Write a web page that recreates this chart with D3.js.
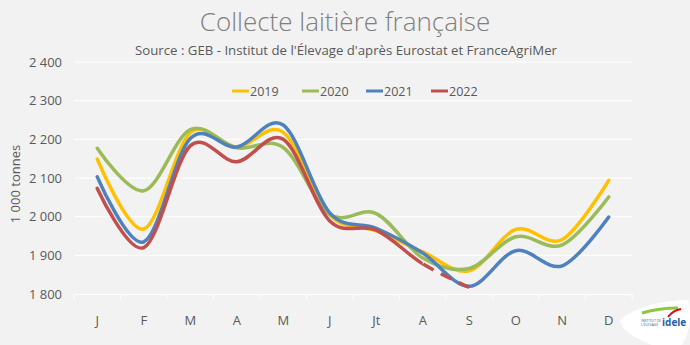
<!DOCTYPE html>
<html><head><meta charset="utf-8">
<script src="https://cdn.jsdelivr.net/npm/d3@7"></script>
<style>html,body{margin:0;padding:0;background:#f2f2f2;}svg{display:block;}</style>
</head><body><svg id="c" width="690" height="345"></svg>
<script>
const months = ["J","F","M","A","M ","J ","Jt","A ","S","O","N","D"];
const monthLabels = ["J","F","M","A","M","J","Jt","A","S","O","N","D"];
const s2019 = [2149, 1968, 2217, 2180, 2218, 2005, 1963, 1909, 1860, 1967, 1941, 2094];
const s2020 = [2177, 2067, 2225, 2178, 2179, 2006, 2008, 1893, 1866, 1948, 1927, 2051];
const s2021 = [2103, 1935, 2202, 2180, 2237, 2010, 1970, 1906, 1820, 1912, 1873, 1999];
const s2022 = [2073, 1920, 2183, 2142, 2200, 1989, 1965, 1878, 1817];
const seriesNames = ["2019","2020","2021","2022"];
const seriesColors = ["#FFC000","#9BBB59","#4F81BD","#C0504D"];
const yTicks = [1800,1900,2000,2100,2200,2300,2400];
const dashedFromIndex = 7; // 2022 : segment août -> sept en pointillés

const svg = d3.select("#c");
const font = "'Open Sans', sans-serif";
svg.append("rect").attr("width",690).attr("height",345).attr("fill","#f2f2f2");

const x = d3.scaleBand().domain(months).range([74, 632]);
const y = d3.scaleLinear().domain([1800, 2400]).range([294, 62]);
const fmt = v => d3.format(",")(v).replace(",", " ");

// gridlines
svg.append("g").selectAll("line").data(yTicks.slice(1)).join("line")
  .attr("x1", 74).attr("x2", 632).attr("y1", d => y(d)).attr("y2", d => y(d))
  .attr("stroke", "#ffffff").attr("stroke-width", 1);

// y axis labels
const ya = svg.append("g").attr("transform","translate(74,0)")
  .call(d3.axisLeft(y).tickValues(yTicks).tickSize(0).tickPadding(12).tickFormat(fmt));
ya.select(".domain").remove();
ya.selectAll("text").attr("font-family", font).attr("font-size", 13).attr("fill", "#595959");

// x axis
const xa = svg.append("g").attr("transform","translate(0,294)")
  .call(d3.axisBottom(x).tickSize(0).tickPadding(22).tickFormat((d,i)=>monthLabels[i]));
xa.select(".domain").attr("stroke","#ffffff").attr("stroke-width",1);
xa.selectAll("text").attr("font-family", font).attr("font-size", 13).attr("fill", "#595959");
svg.append("g").selectAll("line").data(d3.range(13)).join("line")
  .attr("x1", i => 74 + i * x.step()).attr("x2", i => 74 + i * x.step())
  .attr("y1", 294).attr("y2", 299).attr("stroke","#ffffff");

// y title
svg.append("text").attr("transform","translate(20,184) rotate(-90)")
  .attr("text-anchor","middle").attr("font-family",font).attr("font-size",13)
  .attr("fill","#595959").text("1 000 tonnes");

// title
svg.append("text").attr("x",345).attr("y",31).attr("text-anchor","middle")
  .attr("font-family",font).attr("font-weight",300).attr("font-size",26).attr("fill","#7f7f7f")
  .text("Collecte laitière française");
svg.append("text").attr("x",346).attr("y",55).attr("text-anchor","middle")
  .attr("font-family",font).attr("font-size",12.5).attr("fill","#595959")
  .attr("textLength",422).attr("lengthAdjust","spacingAndGlyphs")
  .text("Source : GEB - Institut de l'Élevage d'après Eurostat et FranceAgriMer");

// lines
const cx = x.bandwidth()/2;
const line = d3.line().x((d,i)=>x(months[i]) + cx).y(d=>y(d)).curve(d3.curveCatmullRom.alpha(0));
const all = [s2019, s2020, s2021];
const g = svg.append("g").attr("fill","none").attr("stroke-linecap","round").attr("stroke-linejoin","round");
all.forEach((s,k)=>{
  g.append("path").attr("d", line(s)).attr("stroke", seriesColors[k]).attr("stroke-width", 3.5);
});
// 2022 : solid then dashed
const xA = x(months[dashedFromIndex]) + cx;
svg.append("clipPath").attr("id","clipSolid").append("rect").attr("x",0).attr("y",0).attr("width",xA).attr("height",345);
g.append("path").attr("d", line(s2022)).attr("stroke", seriesColors[3]).attr("stroke-width",3.5)
  .attr("clip-path","url(#clipSolid)");
const dashed = g.append("path").attr("d", line(s2022)).attr("stroke", seriesColors[3]).attr("stroke-width",3.5)
  .attr("stroke-linecap","butt");
const node = dashed.node();
const L = node.getTotalLength();
let lo = 0, hi = L;
for (let k = 0; k < 40; k++) { const m = (lo+hi)/2; if (node.getPointAtLength(m).x < xA) lo = m; else hi = m; }
dashed.attr("stroke-dasharray", `0,${lo},12,8,12,8,12,8,12,8`);

// legend
const lg = svg.append("g");
const lx = [232, 302, 366, 431];
seriesNames.forEach((n,k)=>{
  lg.append("line").attr("x1",lx[k]).attr("x2",lx[k]+17).attr("y1",91).attr("y2",91)
    .attr("stroke",seriesColors[k]).attr("stroke-width",3);
  lg.append("text").attr("x",lx[k]+18).attr("y",95.5).attr("font-family",font).attr("font-size",12.5)
    .attr("fill","#595959").text(n);
});

// logo
const logo = svg.append("g");
logo.append("path").attr("d","M620,320 C636,306 666,300 688,300 C692,312 690,334 682,345 L652,345 C636,338 622,332 620,320 Z").attr("fill","#ffffff");
logo.append("path").attr("d","M642,313 C656,309 668,308 678,308").attr("stroke","#8dc63f").attr("stroke-width",3).attr("fill","none");
logo.append("path").attr("d","M668,317 C671,313 675,310 681,309").attr("stroke","#e30613").attr("stroke-width",2).attr("fill","none");
logo.append("text").attr("x",662).attr("y",326).attr("font-family",font).attr("font-weight",700)
  .attr("font-size",10).attr("fill","#1f5fa8").text("idele");
logo.append("text").attr("x",641).attr("y",322).attr("font-family",font).attr("font-size",3.5)
  .attr("fill","#1f5fa8").text("INSTITUT DE");
logo.append("text").attr("x",641).attr("y",326).attr("font-family",font).attr("font-size",3.5)
  .attr("fill","#1f5fa8").text("L'ÉLEVAGE");
</script></body></html>
